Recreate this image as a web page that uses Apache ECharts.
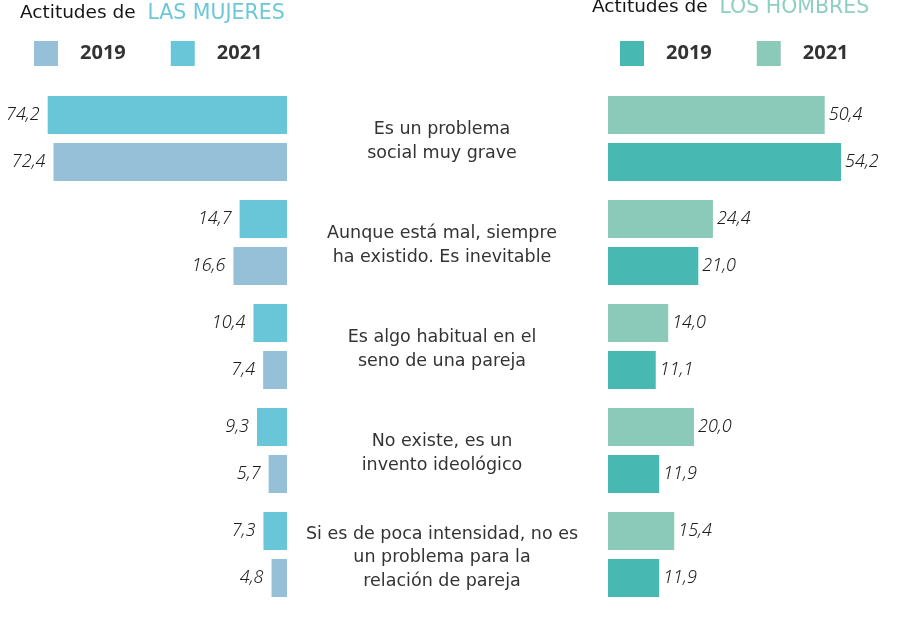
<!DOCTYPE html>
<html>
<head>
<meta charset="utf-8">
<script src="https://cdn.jsdelivr.net/npm/echarts@6/dist/echarts.min.js"></script>
<style>
html,body{margin:0;padding:0;background:#fff;}
#chart{width:901px;height:624px;}
</style>
</head>
<body>
<div id="chart"></div>
<script>
const categories = [
  'Es un problema\nsocial muy grave',
  'Aunque está mal, siempre\nha existido. Es inevitable',
  'Es algo habitual en el\nseno de una pareja',
  'No existe, es un\ninvento ideológico',
  'Si es de poca intensidad, no es\nun problema para la\nrelación de pareja'
];
const years = ['2019', '2021'];
const mujeres2021 = [74.2, 14.7, 10.4, 9.3, 7.3];
const mujeres2019 = [72.4, 16.6, 7.4, 5.7, 4.8];
const hombres2021 = [50.4, 24.4, 14.0, 20.0, 15.4];
const hombres2019 = [54.2, 21.0, 11.1, 11.9, 11.9];

const FONT = 'Noto Sans';
const WIDE = 'DejaVu Sans';
const colM2021 = '#69C6D8', colM2019 = '#96C0D8';
const colH2021 = '#8BCAB8', colH2019 = '#47B8B2';

const fmt = p => p.value.toFixed(1).replace('.', ',');
const valLabel = (pos, dist) => ({
  show: true, position: pos, distance: dist, formatter: fmt,
  fontFamily: FONT, fontStyle: 'italic', fontWeight: 300, fontSize: 18, color: '#1c1c1c'
});

const titleStyle = (capColor) => ({
  fontFamily: WIDE, fontSize: 18.5, fontWeight: 'normal', color: '#151515',
  rich: {
    a: { fontFamily: WIDE, fontSize: 18.5, color: '#151515' },
    b: { fontFamily: WIDE, fontSize: 20.5, color: capColor }
  }
});

const legendBase = {
  orient: 'horizontal', icon: 'rect', itemWidth: 24, itemHeight: 25, itemGap: 45,
  formatter: n => n.slice(1),
  textStyle: { fontFamily: FONT, fontSize: 20, fontWeight: 'bold', color: '#333', padding: [0, 0, 0, 17] }
};

const hiddenAxis = { axisLine: { show: false }, axisTick: { show: false }, axisLabel: { show: false }, splitLine: { show: false } };

const chart = echarts.init(document.getElementById('chart'));
chart.setOption({
  animation: false,
  title: [
    { text: '{a|Actitudes de}  {b|LAS MUJERES}', left: 15, top: -2, textStyle: titleStyle('#6CC8D9') },
    { text: '{a|Actitudes de}  {b|LOS HOMBRES}', left: 587, top: -8, textStyle: titleStyle('#8DCFC0') }
  ],
  legend: [
    Object.assign({ data: ['M' + years[0], 'M' + years[1]], left: 29, top: 36 }, legendBase),
    Object.assign({ data: ['H' + years[0], 'H' + years[1]], left: 615, top: 36 }, legendBase)
  ],
  grid: [
    { left: 29, width: 258, top: 86.5, height: 520 },
    { left: 608, width: 258, top: 86.5, height: 520 },
    { left: 608, width: 258, top: 89.5, height: 520 }
  ],
  xAxis: [
    { gridIndex: 0, type: 'value', min: 0, max: 80, inverse: true, show: false },
    { gridIndex: 1, type: 'value', min: 0, max: 60, show: false },
    { gridIndex: 2, type: 'value', min: 0, max: 60, show: false }
  ],
  yAxis: [
    Object.assign({ gridIndex: 0, type: 'category', data: categories, inverse: true }, hiddenAxis),
    Object.assign({ gridIndex: 1, type: 'category', data: categories, inverse: true }, hiddenAxis),
    { gridIndex: 2, type: 'category', data: categories, inverse: true,
      axisLine: { show: false }, axisTick: { show: false }, splitLine: { show: false },
      axisLabel: { show: true, align: 'center', margin: 166, fontFamily: WIDE, fontSize: 17.5,
        lineHeight: 23.5, color: '#333' } }
  ],
  series: [
    { name: 'M' + years[1], type: 'bar', xAxisIndex: 0, yAxisIndex: 0, data: mujeres2021,
      barWidth: 38, barGap: '23.7%', itemStyle: { color: colM2021 }, label: valLabel('left', 8) },
    { name: 'M' + years[0], type: 'bar', xAxisIndex: 0, yAxisIndex: 0, data: mujeres2019,
      barWidth: 38, barGap: '23.7%', itemStyle: { color: colM2019 }, label: valLabel('left', 8) },
    { name: 'H' + years[1], type: 'bar', xAxisIndex: 1, yAxisIndex: 1, data: hombres2021,
      barWidth: 38, barGap: '23.7%', itemStyle: { color: colH2021 }, label: valLabel('right', 4) },
    { name: 'H' + years[0], type: 'bar', xAxisIndex: 1, yAxisIndex: 1, data: hombres2019,
      barWidth: 38, barGap: '23.7%', itemStyle: { color: colH2019 }, label: valLabel('right', 4) }
  ]
});
</script>
</body>
</html>
